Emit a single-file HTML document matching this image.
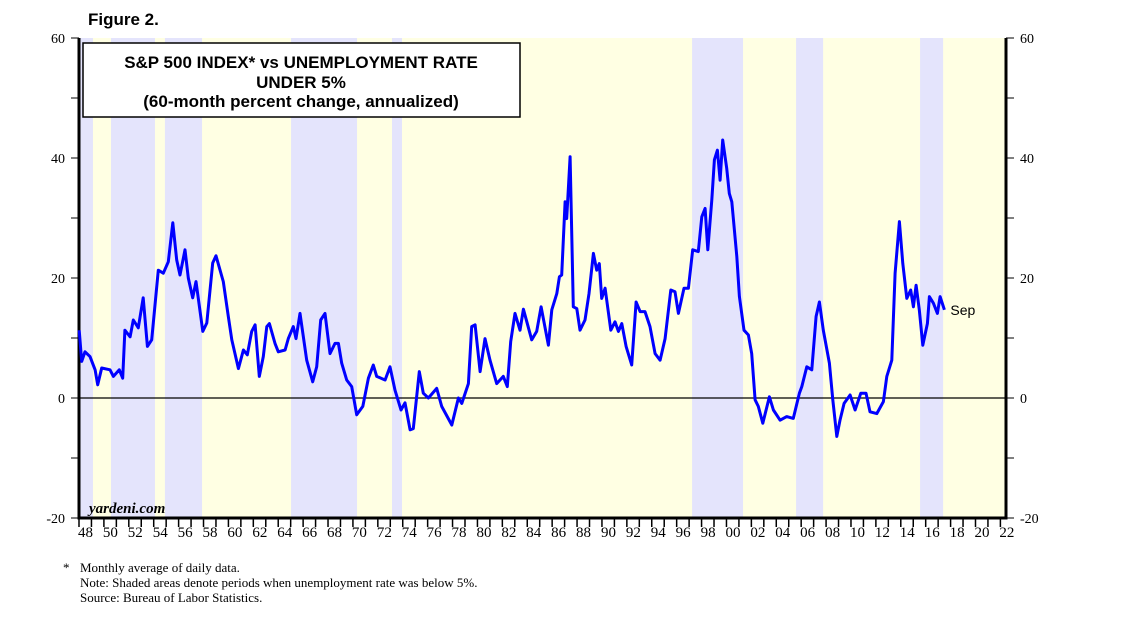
<!DOCTYPE html>
<html><head><meta charset="utf-8">
<style>
body{margin:0;background:#fff;}
svg{display:block;}
</style></head>
<body>
<svg id="chart" width="1138" height="621" xmlns="http://www.w3.org/2000/svg">
<text x="88" y="25" font-family="Liberation Sans, sans-serif" font-weight="bold" font-size="17">Figure 2.</text>
<g id="bands"></g>
<g id="axes"></g>
<g id="series"></g>
<g>
<rect x="83" y="43" width="437" height="74" fill="#fff" stroke="#000" stroke-width="1.5"/>
<text x="301" y="68" text-anchor="middle" font-family="Liberation Sans, sans-serif" font-weight="bold" font-size="17">S&amp;P 500 INDEX* vs UNEMPLOYMENT RATE</text>
<text x="301" y="88" text-anchor="middle" font-family="Liberation Sans, sans-serif" font-weight="bold" font-size="17">UNDER 5%</text>
<text x="301" y="107" text-anchor="middle" font-family="Liberation Sans, sans-serif" font-weight="bold" font-size="17">(60-month percent change, annualized)</text>
</g>
<text x="89" y="513" font-family="Liberation Serif, serif" font-style="italic" font-weight="bold" font-size="15">yardeni.com</text>
<g font-family="Liberation Serif, serif" font-size="13">
<text x="63" y="572">*</text>
<text x="80" y="572">Monthly average of daily data.</text>
<text x="80" y="587">Note: Shaded areas denote periods when unemployment rate was below 5%.</text>
<text x="80" y="602">Source: Bureau of Labor Statistics.</text>
</g>
</svg>
<script>
const dates=[1948.02,1948.22,1948.48,1948.88,1949.29,1949.5,1949.82,1950.49,1950.76,1951.24,1951.51,1951.69,1952.1,1952.36,1952.76,1953.16,1953.49,1953.84,1954.37,1954.77,1955.17,1955.53,1955.85,1956.11,1956.51,1956.78,1957.13,1957.4,1957.94,1958.26,1958.74,1959.0,1959.59,1959.99,1960.27,1960.8,1961.2,1961.52,1961.87,1962.14,1962.48,1962.8,1963.08,1963.29,1963.74,1964.01,1964.55,1964.81,1965.21,1965.43,1965.75,1966.29,1966.77,1967.09,1967.41,1967.76,1968.16,1968.56,1968.83,1969.1,1969.5,1969.9,1970.3,1970.79,1971.24,1971.64,1971.91,1972.58,1972.98,1973.38,1973.86,1974.18,1974.59,1974.85,1975.33,1975.65,1976.06,1976.73,1977.13,1977.94,1978.47,1978.74,1979.27,1979.54,1979.81,1980.21,1980.61,1981.01,1981.55,1982.08,1982.4,1982.67,1983.02,1983.42,1983.69,1984.36,1984.76,1985.11,1985.7,1985.97,1986.37,1986.58,1986.77,1987.04,1987.17,1987.44,1987.7,1987.98,1988.24,1988.64,1988.96,1989.31,1989.58,1989.79,1989.98,1990.25,1990.71,1991.05,1991.32,1991.59,1991.94,1992.39,1992.74,1993.06,1993.46,1993.86,1994.27,1994.67,1995.07,1995.53,1995.87,1996.14,1996.59,1996.94,1997.29,1997.74,1998.02,1998.28,1998.5,1998.82,1999.03,1999.27,1999.49,1999.7,2000.02,2000.23,2000.43,2000.83,2001.04,2001.41,2001.76,2002.03,2002.3,2002.56,2002.92,2003.45,2003.77,2004.31,2004.84,2005.37,2005.86,2006.05,2006.45,2006.85,2007.2,2007.46,2007.78,2008.27,2008.54,2008.86,2009.12,2009.45,2009.93,2010.33,2010.79,2011.21,2011.53,2012.07,2012.6,2012.88,2013.28,2013.54,2013.89,2014.16,2014.48,2014.8,2015.01,2015.23,2015.49,2015.77,2016.14,2016.3,2016.62,2016.94,2017.16,2017.5];
const values=[11.3,6.1,7.7,6.9,4.7,2.2,5,4.7,3.6,4.7,3.3,11.3,10.2,13,11.7,16.7,8.6,9.7,21.3,20.8,22.7,29.2,23,20.5,24.7,20,16.7,19.4,11.1,12.5,22.5,23.7,19.4,13.6,9.7,4.9,8,7.2,11.1,12.2,3.6,6.9,11.9,12.4,9.1,7.7,8,9.9,11.9,9.9,14.1,6.3,2.7,5.2,13,14.1,7.4,9.1,9.1,5.8,3,1.9,-2.8,-1.4,3.3,5.5,3.6,3,5.2,1.3,-2,-0.8,-5.3,-5.1,4.4,0.8,0,1.6,-1.4,-4.5,0,-0.9,2.4,11.9,12.2,4.4,9.9,6.3,2.4,3.6,1.9,9.4,14.1,11.3,14.8,9.7,11.1,15.2,8.8,14.7,17.4,20.2,20.5,32.7,29.9,40.2,15.2,14.9,11.3,13,17.4,24.1,21.3,22.4,16.6,18.3,11.3,12.7,11.1,12.4,8.6,5.5,16,14.4,14.4,11.9,7.4,6.3,9.9,18,17.7,14.1,18.3,18.3,24.7,24.4,30.2,31.6,24.7,33,39.7,41.3,36.3,43,38.3,34.1,32.7,23.6,16.9,11.3,10.5,7.4,-0.3,-1.4,-4.2,0.2,-2,-3.7,-3.1,-3.4,0.8,1.9,5.2,4.7,13.6,16,11.3,5.8,-0.3,-6.4,-3.7,-0.9,0.5,-2,0.8,0.8,-2.3,-2.6,-0.6,3.6,6.3,20.8,29.4,22.4,16.6,18,15.2,18.8,14.7,8.8,12.4,16.9,15.8,14.1,16.9,14.7];
const bandStarts=[1948.0,1950.57,1954.9,1965.03,1973.14,1997.24,2005.59,2015.55];
const bandEnds=[1949.12,1954.1,1957.88,1970.33,1973.94,2001.33,2007.76,2017.4];
const yTicks=[-20,-10,0,10,20,30,40,50,60];
const yLabels=[-20,0,20,40,60];
const xLabels=["48","50","52","54","56","58","60","62","64","66","68","70","72","74","76","78","80","82","84","86","88","90","92","94","96","98","00","02","04","06","08","10","12","14","16","18","20","22"];

const NS="http://www.w3.org/2000/svg";
const L=79,R=1006,T=38,B=518,Y0=1948,Y1=2022.45;
const xs=y=>L+(y-Y0)/(Y1-Y0)*(R-L);
const ys=v=>T+(60-v)/80*(B-T);
function mk(tag,attrs,parent){const e=document.createElementNS(NS,tag);for(const k in attrs)e.setAttribute(k,attrs[k]);parent.appendChild(e);return e;}
const bands=document.getElementById('bands'),axes=document.getElementById('axes'),series=document.getElementById('series');
// yellow background
const bg=mk('rect',{x:L,y:T,width:R-L,height:B-T,fill:'#ffffe3'},bands);


bandStarts.forEach((s,i)=>{
  const r=mk('rect',{x:xs(s),y:T,width:xs(bandEnds[i])-xs(s),height:B-T,fill:'#e4e4fc'},bands);
  
  
});
// zero line
const z=mk('line',{x1:L,x2:R,y1:ys(0),y2:ys(0),stroke:'#000','stroke-width':1.2},axes);


// axes lines
mk('line',{x1:L,x2:L,y1:T,y2:B+1.5,stroke:'#000','stroke-width':3},axes);
mk('line',{x1:R,x2:R,y1:T,y2:B+1.5,stroke:'#000','stroke-width':3},axes);
mk('line',{x1:L-1.5,x2:R+1.5,y1:B,y2:B,stroke:'#000','stroke-width':3},axes);
yTicks.forEach(v=>{
  mk('line',{x1:L-8,x2:L,y1:ys(v),y2:ys(v),stroke:'#000','stroke-width':1},axes);
  mk('line',{x1:R,x2:R+8,y1:ys(v),y2:ys(v),stroke:'#000','stroke-width':1},axes);
});
yLabels.forEach(v=>{
  const t=mk('text',{x:L-14,y:ys(v)+5,'text-anchor':'end','font-family':'Liberation Serif, serif','font-size':14},axes);
  t.textContent=v;
  
  
  const t2=mk('text',{x:R+14,y:ys(v)+5,'font-family':'Liberation Serif, serif','font-size':14},axes);
  t2.textContent=v;
  
  
});
for(let yr=1948;yr<=2022;yr++){
  mk('line',{x1:xs(yr),x2:xs(yr),y1:B,y2:B+9,stroke:'#000','stroke-width':1.5},axes);
}
xLabels.forEach((lab,i)=>{
  const t=mk('text',{x:xs(1948+2*i)-1,y:B+19,'font-family':'Liberation Serif, serif','font-size':15},axes);
  t.textContent=lab;
  
  
});
const pts=dates.map((d,i)=>xs(d).toFixed(1)+','+ys(values[i]).toFixed(1)).join(' ');
const pl=mk('polyline',{points:pts,fill:'none',stroke:'#0000ff','stroke-width':3,'stroke-linejoin':'round'},series);


const last=dates.length-1;
const sep=mk('text',{x:xs(dates[last])+6,y:ys(values[last])+5,'font-family':'Liberation Sans, sans-serif','font-size':14},series);
sep.textContent='Sep';


</script>
</body></html>
